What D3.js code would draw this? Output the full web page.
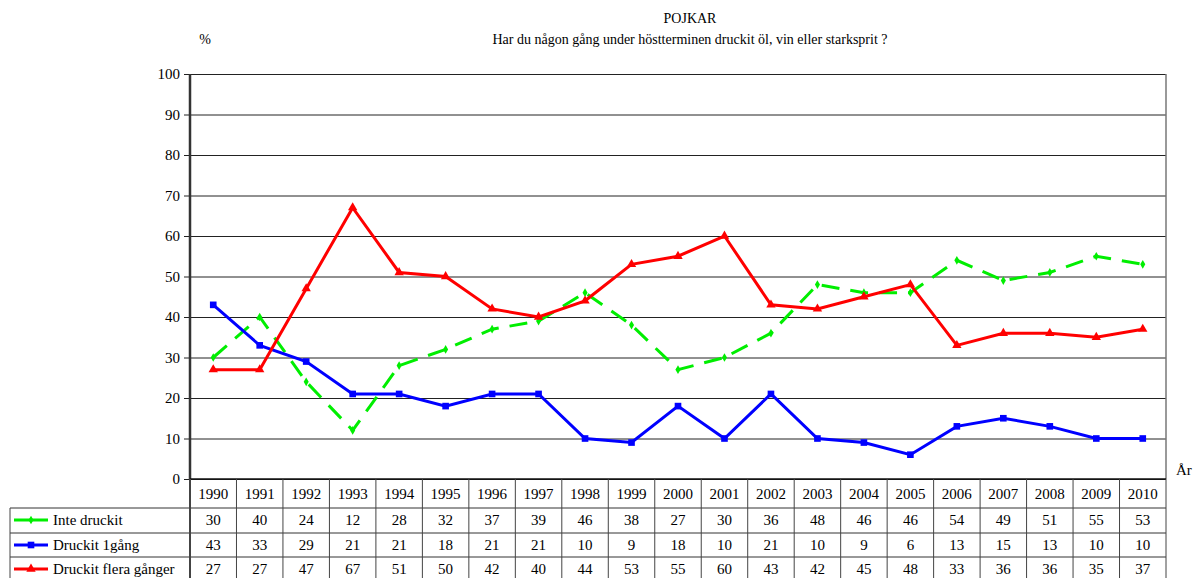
<!DOCTYPE html>
<html>
<head>
<meta charset="utf-8">
<script src="https://cdn.jsdelivr.net/npm/d3@7"></script>
<style>
  body { margin: 0; background: #fff; overflow: hidden; }
</style>
</head>
<body>
<svg id="chart"></svg>
<script>
const years = [1990,1991,1992,1993,1994,1995,1996,1997,1998,1999,2000,2001,2002,2003,2004,2005,2006,2007,2008,2009,2010]
const inteDruckit = [30,40,24,12,28,32,37,39,46,38,27,30,36,48,46,46,54,49,51,55,53]
const druckit1 = [43,33,29,21,21,18,21,21,10,9,18,10,21,10,9,6,13,15,13,10,10]
const druckitFlera = [27,27,47,67,51,50,42,40,44,53,55,60,43,42,45,48,33,36,36,35,37]
const yTicks = [0,10,20,30,40,50,60,70,80,90,100]

const FONT = 'Liberation Serif, Times New Roman, Times, DejaVu Serif, serif'
const width = 1199
const height = 578
const margin = {top:74, right:33, bottom:99, left:190}
const innerWidth = width - margin.left - margin.right
const innerHeight = height - margin.top - margin.bottom

const series = [
  {name:'Inte druckit', values:inteDruckit, color:'#00ee00', dash:'18,11', marker:'diamond'},
  {name:'Druckit 1gång', values:druckit1, color:'#0000ff', dash:null, marker:'square'},
  {name:'Druckit flera gånger', values:druckitFlera, color:'#ff0000', dash:null, marker:'triangle'}
]

const symType = m => m === 'square' ? d3.symbolSquare : m === 'triangle' ? d3.symbolTriangle : d3.symbolDiamond
const symSize = m => m === 'square' ? 44 : m === 'triangle' ? 38 : 22

const svg = d3.select('#chart')
  .attr('width', width)
  .attr('height', height)
  .style('font-family', FONT)

const x = d3.scaleBand().domain(years).range([0, innerWidth])
const y = d3.scaleLinear().domain([0,100]).range([innerHeight, 0])

const g = svg.append('g').attr('transform', `translate(${margin.left},${margin.top})`)

// titles
svg.append('text').text('POJKAR').attr('x', 690).attr('y', 23)
  .attr('text-anchor','middle').attr('font-size', 14)
svg.append('text').text('Har du någon gång under höstterminen druckit öl, vin eller starksprit ?')
  .attr('x', 690).attr('y', 44).attr('text-anchor','middle').attr('font-size', 14)
svg.append('text').text('%').attr('x', 205).attr('y', 44)
  .attr('text-anchor','middle').attr('font-size', 14)
svg.append('text').text('År').attr('x', 1176).attr('y', 475).attr('font-size', 15)

// gridlines + y axis
const yAxis = d3.axisLeft(y).tickValues(yTicks).tickSize(-innerWidth).tickSizeOuter(0).tickPadding(10)
const ya = g.append('g').call(yAxis)
ya.attr('font-family', null)
ya.select('.domain').remove()
ya.selectAll('.tick line').attr('stroke', '#222').attr('stroke-width', 1)
ya.selectAll('.tick text').attr('font-size', 15).attr('fill','#000')
ya.selectAll('.tick').append('line').attr('x1', -6).attr('x2', 0).attr('stroke', '#222')

// frame
g.append('line').attr('x1', innerWidth).attr('x2', innerWidth).attr('y1', 0).attr('y2', innerHeight)
  .attr('stroke', '#777').attr('stroke-width', 1.5)
g.append('line').attr('x1', 0).attr('x2', 0).attr('y1', 0).attr('y2', innerHeight)
  .attr('stroke', '#333').attr('stroke-width', 2.5)
g.append('line').attr('x1', 0).attr('x2', innerWidth).attr('y1', innerHeight).attr('y2', innerHeight)
  .attr('stroke', '#111').attr('stroke-width', 1.5)

// lines
const line = d3.line()
  .x((d,i) => x(years[i]) + x.bandwidth()/2)
  .y(d => y(d))

series.forEach(s => {
  g.append('path')
    .attr('d', line(s.values))
    .attr('fill','none')
    .attr('stroke', s.color)
    .attr('stroke-width', 3)
    .attr('stroke-dasharray', s.dash)
  g.append('g').selectAll('path')
    .data(s.values)
    .enter()
    .append('path')
    .attr('d', d3.symbol().type(symType(s.marker)).size(symSize(s.marker)))
    .attr('transform', (d,i) => `translate(${x(years[i]) + x.bandwidth()/2},${y(d)})`)
    .attr('fill', s.color)
})

// data table
const rowTop = margin.top + innerHeight
const rowH = [29, 25, 24, 24]
const rowY = [rowTop]
rowH.forEach((h,i) => rowY.push(rowY[i] + h))
const tableLeft = 10
const tbl = svg.append('g')

rowY.forEach((yy,i) => {
  if (i === 0) return
  tbl.append('line')
    .attr('x1', tableLeft)
    .attr('x2', margin.left + innerWidth)
    .attr('y1', yy).attr('y2', yy)
    .attr('stroke', '#333').attr('stroke-width', 1)
})
years.forEach(yr => {
  const xx = margin.left + x(yr)
  tbl.append('line').attr('x1', xx).attr('x2', xx).attr('y1', rowTop).attr('y2', height)
    .attr('stroke', '#444').attr('stroke-width', xx === margin.left ? 2 : 1)
})
tbl.append('line').attr('x1', margin.left + innerWidth).attr('x2', margin.left + innerWidth)
  .attr('y1', rowTop).attr('y2', height).attr('stroke', '#444')
tbl.append('line').attr('x1', tableLeft).attr('x2', tableLeft)
  .attr('y1', rowY[1]).attr('y2', height).attr('stroke', '#444')

tbl.selectAll('.yr').data(years).enter().append('text')
  .attr('x', d => margin.left + x(d) + x.bandwidth()/2)
  .attr('y', rowY[0] + 20)
  .attr('text-anchor', 'middle').attr('font-size', 15)
  .text(d => d)

series.forEach((s,si) => {
  const top = rowY[si+1]
  const cy = top + 12
  tbl.append('line').attr('x1', 14).attr('x2', 48).attr('y1', cy).attr('y2', cy)
    .attr('stroke', s.color).attr('stroke-width', 3)
  tbl.append('path').attr('d', d3.symbol().type(symType(s.marker)).size(symSize(s.marker)))
    .attr('transform', `translate(31,${cy})`).attr('fill', s.color)
  tbl.append('text').text(s.name).attr('x', 53).attr('y', cy + 5).attr('font-size', 15)
  tbl.selectAll(null).data(s.values).enter().append('text')
    .attr('x', (d,i) => margin.left + x(years[i]) + x.bandwidth()/2)
    .attr('y', Math.min(cy + 5, height - 4))
    .attr('text-anchor', 'middle').attr('font-size', 15)
    .text(d => d)
})
</script>
</body>
</html>
